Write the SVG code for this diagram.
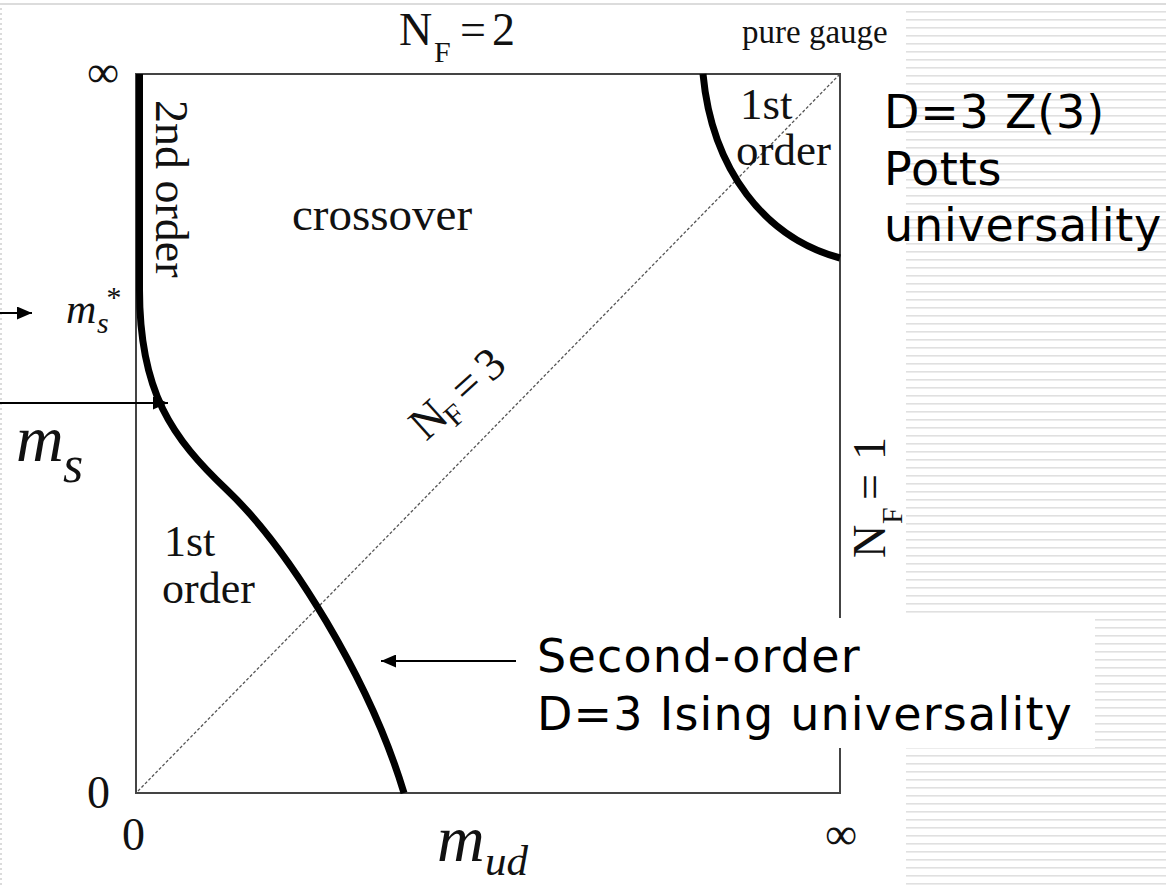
<svg xmlns="http://www.w3.org/2000/svg" width="1166" height="885" viewBox="0 0 1166 885">
<style>
.serif{font-family:"Liberation Serif","Times New Roman",serif;fill:#111}
.ital{font-family:"Liberation Serif","Times New Roman",serif;font-style:italic;fill:#111}
.sans{font-family:"DejaVu Sans",Verdana,sans-serif;fill:#000;font-size:46px;letter-spacing:1.2px}
.thick{fill:none;stroke:#000;stroke-width:7}
.arrow{stroke:#000;stroke-width:2;fill:none;marker-end:url(#head)}
</style>
<defs>
<pattern id="stripes" x="0" y="11" width="8" height="8" patternUnits="userSpaceOnUse">
<rect x="0" y="0" width="8" height="1.6" fill="#e0e0e0"/>
</pattern>
<marker id="head" markerUnits="userSpaceOnUse" markerWidth="16" markerHeight="13" refX="15" refY="6.5" orient="auto">
<path d="M0,0 L15,6.5 L0,13 z" fill="#000"/>
</marker>
</defs>
<rect width="1166" height="885" fill="#fff"/>
<rect x="906" y="10" width="260" height="875" fill="url(#stripes)"/>
<line x1="0" y1="4" x2="1166" y2="4" stroke="#dcdcdc" stroke-width="2"/>
<line x1="1" y1="8" x2="1" y2="885" stroke="#cfcfcf" stroke-width="1.5" stroke-dasharray="2 3"/>

<g id="plot">
<rect x="136" y="74" width="704" height="719" fill="none" stroke="#444" stroke-width="2"/>
<line x1="138" y1="791" x2="839" y2="75" stroke="#555" stroke-width="1.3" stroke-dasharray="3 2"/>
<path class="thick" d="M139.5,74 L139.5,290 C139.5,392 172,438 227,490 C290,550 370,680 404,793"/>
<path class="thick" d="M703,74 C712,170 765,238 840,258"/>
</g>

<g id="ticks">
<text class="serif" x="87" y="87" font-size="45">∞</text>
<text class="serif" x="87" y="808" font-size="46">0</text>
<text class="serif" x="122" y="850" font-size="46">0</text>
<text class="serif" x="825" y="849" font-size="45">∞</text>
</g>

<g id="axis-labels">
<text class="ital" x="437" y="861" font-size="66">m</text>
<text class="ital" x="485" y="875" font-size="43">ud</text>
<text class="ital" x="16" y="461" font-size="66">m</text>
<text class="ital" x="63" y="482" font-size="52">s</text>
<text class="ital" x="66" y="323" font-size="42">m</text>
<text class="ital" x="97" y="333" font-size="30">s</text>
<text class="ital" x="105" y="307" font-size="30">*</text>
</g>

<g id="nf-labels">
<text class="serif" font-size="46" y="45"><tspan x="399">N</tspan><tspan x="434" y="62" font-size="30">F</tspan><tspan x="460" y="45">=</tspan><tspan x="492" y="45">2</tspan></text>
<text class="serif" font-size="33" x="742" y="43" fill="#222">pure gauge</text>
<g transform="translate(426,442) rotate(-42)">
<text class="serif" font-size="46" y="0"><tspan x="0">N</tspan><tspan x="31" y="9" font-size="30">F</tspan><tspan x="55" y="0">=</tspan><tspan x="88" y="0">3</tspan></text>
</g>
<g transform="translate(885,558) rotate(-90)">
<text class="serif" font-size="46" y="0"><tspan x="0">N</tspan><tspan x="34" y="17" font-size="30">F</tspan><tspan x="58" y="0">=</tspan><tspan x="98" y="0">1</tspan></text>
</g>
</g>

<g id="region-labels">
<text class="serif" font-size="47" x="292" y="230">crossover</text>
<text class="serif" font-size="46" transform="translate(156,100) rotate(90)">2nd order</text>
<text class="serif" font-size="44" x="164" y="556">1st</text>
<text class="serif" font-size="44" x="162" y="603">order</text>
<text class="serif" font-size="45" x="740" y="119">1st</text>
<text class="serif" font-size="45" x="736" y="165">order</text>
</g>

<g id="connectors">
<line class="arrow" x1="0" y1="313" x2="32" y2="313"/>
<line class="arrow" x1="0" y1="403" x2="168" y2="403"/>
<line class="arrow" x1="516" y1="661" x2="381" y2="661"/>
</g>

<g id="potts-label">
<text class="sans" x="884" y="128" style="letter-spacing:0.8px">D=3 Z(3)</text>
<text class="sans" x="884" y="185" style="letter-spacing:0.8px">Potts</text>
<text class="sans" x="884" y="241" style="letter-spacing:0.8px">universality</text>
</g>

<g id="ising-label">
<rect x="520" y="618" width="575" height="130" fill="#fff"/>
<text class="sans" x="537" y="672">Second-order</text>
<text class="sans" x="537" y="730">D=3 Ising universality</text>
</g>
</svg>
